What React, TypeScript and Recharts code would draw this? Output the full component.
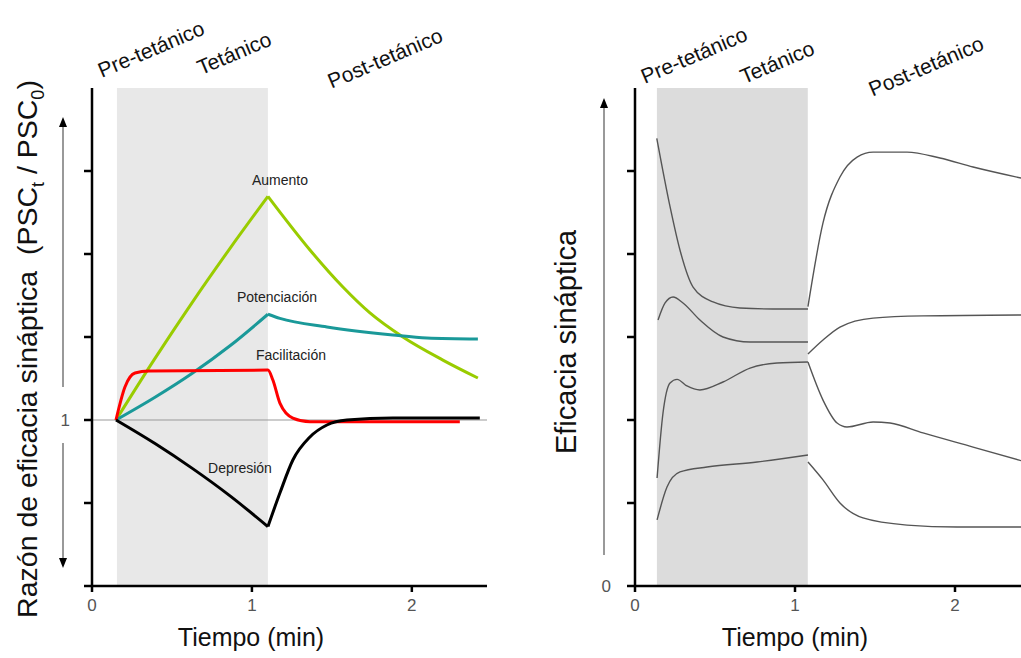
import React from 'react'
import { LineChart, Line, XAxis, YAxis, ReferenceArea, ReferenceLine } from 'recharts'

// Panel izquierdo: razón PSCt/PSC0 (1 = línea base), tiempo en min
// cada curva va en dos tramos (tetánico / post-tetánico) para que el pico quede en punta
const aumentoTet = [
  { x: 0.15, y: 1.0 }, { x: 0.394, y: 1.371 }, { x: 0.625, y: 1.706 }, { x: 0.863, y: 2.034 }, { x: 1.1, y: 2.347 },
]
const aumentoPost = [
  { x: 1.1, y: 2.347 }, { x: 1.363, y: 2.024 }, { x: 1.569, y: 1.801 }, { x: 1.738, y: 1.645 },
  { x: 1.944, y: 1.5 }, { x: 2.194, y: 1.361 }, { x: 2.413, y: 1.253 },
]
const potenciacionTet = [
  { x: 0.15, y: 1.0 }, { x: 0.394, y: 1.137 }, { x: 0.625, y: 1.28 }, { x: 0.863, y: 1.447 }, { x: 1.1, y: 1.637 },
]
const potenciacionPost = [
  { x: 1.1, y: 1.637 }, { x: 1.175, y: 1.612 }, { x: 1.469, y: 1.56 }, { x: 1.881, y: 1.512 },
  { x: 2.094, y: 1.494 }, { x: 2.413, y: 1.488 },
]
const facilitacion = [
  { x: 0.15, y: 1.0 }, { x: 0.206, y: 1.199 }, { x: 0.269, y: 1.283 }, { x: 0.356, y: 1.295 },
  { x: 1.1, y: 1.301 }, { x: 1.131, y: 1.241 }, { x: 1.175, y: 1.102 }, { x: 1.256, y: 1.012 },
  { x: 1.363, y: 0.99 }, { x: 2.3, y: 0.99 },
]
const depresionTet = [
  { x: 0.15, y: 1.0 }, { x: 0.394, y: 0.858 }, { x: 0.625, y: 0.71 }, { x: 0.863, y: 0.543 }, { x: 1.1, y: 0.358 },
]
const depresionPost = [
  { x: 1.1, y: 0.358 }, { x: 1.175, y: 0.56 }, { x: 1.256, y: 0.759 }, { x: 1.363, y: 0.898 },
  { x: 1.469, y: 0.97 }, { x: 1.594, y: 1.0 }, { x: 1.881, y: 1.012 }, { x: 2.425, y: 1.012 },
]

// Panel derecho: eficacia sináptica, tramos tetánico y post-tetánico por separado
const curvaA_tet = [
  { x: 0.136, y: 2.697 }, { x: 0.219, y: 2.285 }, { x: 0.281, y: 2.024 }, { x: 0.363, y: 1.801 },
  { x: 0.488, y: 1.711 }, { x: 0.656, y: 1.675 }, { x: 0.863, y: 1.669 }, { x: 1.081, y: 1.669 },
]
const curvaA_post = [
  { x: 1.081, y: 1.683 }, { x: 1.175, y: 2.187 }, { x: 1.281, y: 2.464 }, { x: 1.388, y: 2.584 },
  { x: 1.488, y: 2.614 }, { x: 1.7, y: 2.614 }, { x: 1.906, y: 2.578 }, { x: 2.113, y: 2.524 },
  { x: 2.45, y: 2.45 },
]
const curvaB_tet = [
  { x: 0.144, y: 1.602 }, { x: 0.188, y: 1.705 }, { x: 0.238, y: 1.741 }, { x: 0.3, y: 1.705 },
  { x: 0.406, y: 1.602 }, { x: 0.55, y: 1.5 }, { x: 0.719, y: 1.47 }, { x: 1.081, y: 1.47 },
]
const curvaB_post = [
  { x: 1.081, y: 1.398 }, { x: 1.175, y: 1.482 }, { x: 1.281, y: 1.56 }, { x: 1.488, y: 1.614 },
  { x: 1.8, y: 1.627 }, { x: 2.45, y: 1.633 },
]
const curvaC_tet = [
  { x: 0.138, y: 0.651 }, { x: 0.175, y: 1.042 }, { x: 0.219, y: 1.223 }, { x: 0.263, y: 1.245 },
  { x: 0.325, y: 1.205 }, { x: 0.406, y: 1.181 }, { x: 0.55, y: 1.229 }, { x: 0.719, y: 1.313 },
  { x: 0.888, y: 1.343 }, { x: 1.081, y: 1.349 },
]
const curvaC_post = [
  { x: 1.081, y: 1.349 }, { x: 1.175, y: 1.12 }, { x: 1.263, y: 0.982 }, { x: 1.325, y: 0.958 },
  { x: 1.488, y: 0.988 }, { x: 1.594, y: 0.982 }, { x: 1.8, y: 0.922 }, { x: 2.113, y: 0.837 },
  { x: 2.45, y: 0.745 },
]
const curvaD_tet = [
  { x: 0.138, y: 0.398 }, { x: 0.2, y: 0.596 }, { x: 0.281, y: 0.687 }, { x: 0.45, y: 0.717 },
  { x: 0.763, y: 0.747 }, { x: 1.081, y: 0.789 },
]
const curvaD_post = [
  { x: 1.081, y: 0.747 }, { x: 1.175, y: 0.639 }, { x: 1.281, y: 0.5 }, { x: 1.425, y: 0.41 },
  { x: 1.7, y: 0.367 }, { x: 2.013, y: 0.355 }, { x: 2.45, y: 0.355 },
]
const curvasDerecha = [curvaA_tet, curvaA_post, curvaB_tet, curvaB_post, curvaC_tet, curvaC_post, curvaD_tet, curvaD_post]

const xTicks = [0, 1, 2]
const yTicks = [0, 0.5, 1, 1.5, 2, 2.5]
const fases = ['Pre-tetánico', 'Tetánico', 'Post-tetánico']

const FONT = '"Liberation Sans", Arial, sans-serif'
const tickStyle = { fill: '#555', fontSize: 17, fontFamily: FONT }
const axisStroke = { stroke: '#000', strokeWidth: 2.5 }

function Arrow({ x, y1, y2 }: { x: number; y1: number; y2: number }) {
  const dir = y2 < y1 ? 1 : -1
  return (
    <g>
      <line x1={x} y1={y1} x2={x} y2={y2 + dir * 6} stroke="#777" strokeWidth={1.5} />
      <polygon points={`${x},${y2} ${x - 4},${y2 + dir * 10} ${x + 4},${y2 + dir * 10}`} fill="#000" />
    </g>
  )
}

function FaseLabel({ x, y, text }: { x: number; y: number; text: string }) {
  return (
    <text x={x} y={y} textAnchor="middle" dominantBaseline="central" fontSize={21} fill="#111"
      fontFamily={FONT} transform={`rotate(-23, ${x}, ${y})`}>
      {text}
    </text>
  )
}

export default function App() {
  const izq = [
    { data: aumentoTet, color: '#99cc00' },
    { data: aumentoPost, color: '#99cc00' },
    { data: potenciacionTet, color: '#1a9999' },
    { data: potenciacionPost, color: '#1a9999' },
    { data: facilitacion, color: '#ff0000' },
    { data: depresionTet, color: '#000' },
    { data: depresionPost, color: '#000' },
  ]
  return (
    <div style={{ position: 'absolute', left: 0, top: 0, width: 1021, height: 658, overflow: 'hidden', background: '#fff' }}>
      <div style={{ position: 'absolute', left: 0, top: 0 }}>
        <LineChart width={500} height={658} margin={{ top: 88, right: 13, bottom: 42, left: 62 }}>
          <ReferenceArea x1={0.156} x2={1.1} y1={0} y2={3} fill="#e8e8e8" fillOpacity={1} stroke="none" ifOverflow="hidden" />
          <ReferenceLine y={1} stroke="#999" strokeWidth={1} />
          <XAxis dataKey="x" type="number" domain={[0, 2.47]} ticks={xTicks} allowDataOverflow
            axisLine={axisStroke} tickLine={axisStroke} tickSize={6} tickMargin={7} height={30} tick={tickStyle} />
          <YAxis type="number" domain={[0, 3]} ticks={yTicks} allowDataOverflow width={30}
            tickFormatter={(v: number) => (v === 1 ? '1' : '')}
            axisLine={axisStroke} tickLine={axisStroke} tickSize={8} tickMargin={14} tick={tickStyle} />
          <YAxis yAxisId="borde" orientation="right" type="number" domain={[0, 3]} width={0}
            tick={false} tickLine={false} axisLine={{ stroke: '#555', strokeWidth: 1.5 }} />
          {izq.map((s, i) => (
            <Line key={i} data={s.data} dataKey="y" type="monotone" stroke={s.color} strokeWidth={3}
              dot={false} isAnimationActive={false} />
          ))}
        </LineChart>
      </div>
      <div style={{ position: 'absolute', left: 520, top: 0 }}>
        <LineChart width={541} height={658} margin={{ top: 88, right: 10, bottom: 42, left: 85 }}>
          <ReferenceArea x1={0.137} x2={1.08} y1={0} y2={3} fill="#dcdcdc" fillOpacity={1} stroke="none" ifOverflow="hidden" />
          <XAxis dataKey="x" type="number" domain={[0, 2.6]} ticks={xTicks} allowDataOverflow
            axisLine={axisStroke} tickLine={axisStroke} tickSize={6} tickMargin={7} height={30} tick={tickStyle} />
          <YAxis type="number" domain={[0, 3]} ticks={yTicks} allowDataOverflow width={30}
            tickFormatter={(v: number) => (v === 0 ? '0' : '')}
            axisLine={axisStroke} tickLine={axisStroke} tickSize={8} tickMargin={16} tick={tickStyle} />
          {curvasDerecha.map((d, i) => (
            <Line key={i} data={d} dataKey="y" type="monotone" stroke="#555" strokeWidth={1.4} dot={false} isAnimationActive={false} />
          ))}
        </LineChart>
      </div>
      <svg width={1021} height={658} style={{ position: 'absolute', left: 0, top: 0, pointerEvents: 'none' }}>
        <text x={37} y={349} textAnchor="middle" fontSize={28.5} fill="#111" fontFamily={FONT}
          transform="rotate(-90, 37, 349)" style={{ whiteSpace: 'pre' }}>
          Razón de eficacia sináptica  (PSC<tspan fontSize={18} dy={7}>t</tspan><tspan dy={-7}> / PSC</tspan><tspan fontSize={18} dy={7}>0</tspan><tspan dy={-7}>)</tspan>
        </text>
        <text x={576} y={342} textAnchor="middle" fontSize={29} fill="#111" fontFamily={FONT} transform="rotate(-90, 576, 342)">
          Eficacia sináptica
        </text>
        <text x={251} y={646} textAnchor="middle" fontSize={25} fill="#111" fontFamily={FONT}>Tiempo (min)</text>
        <text x={795} y={646} textAnchor="middle" fontSize={25} fill="#111" fontFamily={FONT}>Tiempo (min)</text>
        <Arrow x={63} y1={387} y2={117} />
        <Arrow x={63} y1={443} y2={568} />
        <Arrow x={604} y1={555} y2={98} />
        <FaseLabel x={151} y={49} text={fases[0]} />
        <FaseLabel x={234} y={53} text={fases[1]} />
        <FaseLabel x={385} y={58} text={fases[2]} />
        <FaseLabel x={694} y={55} text={fases[0]} />
        <FaseLabel x={777} y={62} text={fases[1]} />
        <FaseLabel x={926} y={66} text={fases[2]} />
        <g fontSize={14} fill="#222" fontFamily={FONT} textAnchor="middle" dominantBaseline="central">
          <text x={280} y={180}>Aumento</text>
          <text x={277} y={297}>Potenciación</text>
          <text x={291} y={355}>Facilitación</text>
          <text x={240} y={468}>Depresión</text>
        </g>
      </svg>
    </div>
  )
}
